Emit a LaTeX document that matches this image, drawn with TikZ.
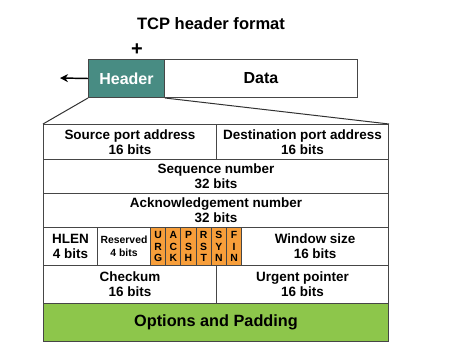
\documentclass[tikz,border=0pt]{standalone}
\usepackage{fontspec}
\setmainfont{Liberation Sans}
\usetikzlibrary{arrows.meta}

\tikzset{every picture/.style={line width=0.75pt}}
\tikzset{
  cell/.style={draw={rgb, 255:red, 70; green, 70; blue, 70 }, rectangle, anchor=north west, inner sep=1pt, align=center, font=\bfseries\fontsize{10.1}{11.5}\selectfont},
  flagcell/.style={cell, fill={rgb, 255:red, 247; green, 158; blue, 58 }, minimum width=11.4pt, minimum height=28.5pt, font=\bfseries\fontsize{7.8}{8.4}\selectfont},
}

\begin{document}
\begin{tikzpicture}[x=0.75pt,y=0.75pt,yscale=-1,xscale=1]
%uncomment if require: \path (0,364); %set diagram left start at 0, and has height of 364
\useasboundingbox (0,0) rectangle (451,364);

% Text Node
\draw (211,24) node (title) [font=\bfseries\fontsize{12.4}{14}\selectfont] {TCP header format};
% Text Node
\draw (137,50) node (plus) [font=\bfseries\fontsize{15}{16}\selectfont] {+};

%Shape: Rectangle [id:hdr]
\draw (88,59) node (hdr) [cell, fill={rgb, 255:red, 72; green, 140; blue, 131 }, text=white, minimum width=57pt, minimum height=28.5pt, font=\bfseries\fontsize{12}{14}\selectfont] {Header};
%Shape: Rectangle [id:data]
\draw (164,59) node (data) [cell, minimum width=144.75pt, minimum height=28.5pt, font=\bfseries\fontsize{12}{14}\selectfont] {Data};

%Shape: Rectangle [id:src]
\draw (43,124) node (src) [cell, minimum width=129.75pt, minimum height=26.25pt] {Source port address\\16 bits};
%Shape: Rectangle [id:dst]
\draw (216,124) node (dst) [cell, minimum width=129pt, minimum height=26.25pt] {Destination port address\\16 bits};
%Shape: Rectangle [id:seq]
\draw (43,159) node (seq) [cell, minimum width=258.75pt, minimum height=25.5pt] {Sequence number\\32 bits};
%Shape: Rectangle [id:ack]
\draw (43,193) node (ack) [cell, minimum width=258.75pt, minimum height=25.5pt] {Acknowledgement number\\32 bits};

%Shape: Rectangle [id:hlen]
\draw (43,227) node (hlen) [cell, minimum width=40.5pt, minimum height=28.5pt] {HLEN\\4 bits};
%Shape: Rectangle [id:rsv]
\draw (97,227) node (rsv) [cell, minimum width=39.75pt, minimum height=28.5pt, font=\bfseries\fontsize{7.8}{10}\selectfont] {Reserved\\4 bits};
% flag bits
\foreach \a/\b/\c [count=\i from 0] in {U/R/G, A/C/K, P/S/H, R/S/T, S/Y/N, F/I/N}
  \draw ({150+\i*15.2},227) node (fl\i) [flagcell] {\a\\\b\\\c};
%Shape: Rectangle [id:win]
\draw (241.2,227) node (win) [cell, minimum width=110.1pt, minimum height=28.5pt] {Window size\\16 bits};

%Shape: Rectangle [id:chk]
\draw (43,265) node (chk) [cell, minimum width=129.75pt, minimum height=28.5pt] {Checkum\\16 bits};
%Shape: Rectangle [id:urg]
\draw (216,265) node (urg) [cell, minimum width=129pt, minimum height=28.5pt] {Urgent pointer\\16 bits};
%Shape: Rectangle [id:opt]
\draw (43,303) node (opt) [cell, fill={rgb, 255:red, 141; green, 198; blue, 75 }, minimum width=258.75pt, minimum height=28.5pt, font=\bfseries\fontsize{12.2}{14}\selectfont] {Options and Padding};

%Straight Lines
\coordinate (tip) at (60,78);
\draw [line width=1.1pt, -{Stealth[length=6pt,width=6pt]}] (hdr.west) -- (tip);
%Straight Lines
\draw [color={rgb, 255:red, 50; green, 50; blue, 50 }] (hdr.south west) -- (src.north west);
\draw [color={rgb, 255:red, 50; green, 50; blue, 50 }] (hdr.south east) -- (dst.north east);

\end{tikzpicture}
\end{document}
